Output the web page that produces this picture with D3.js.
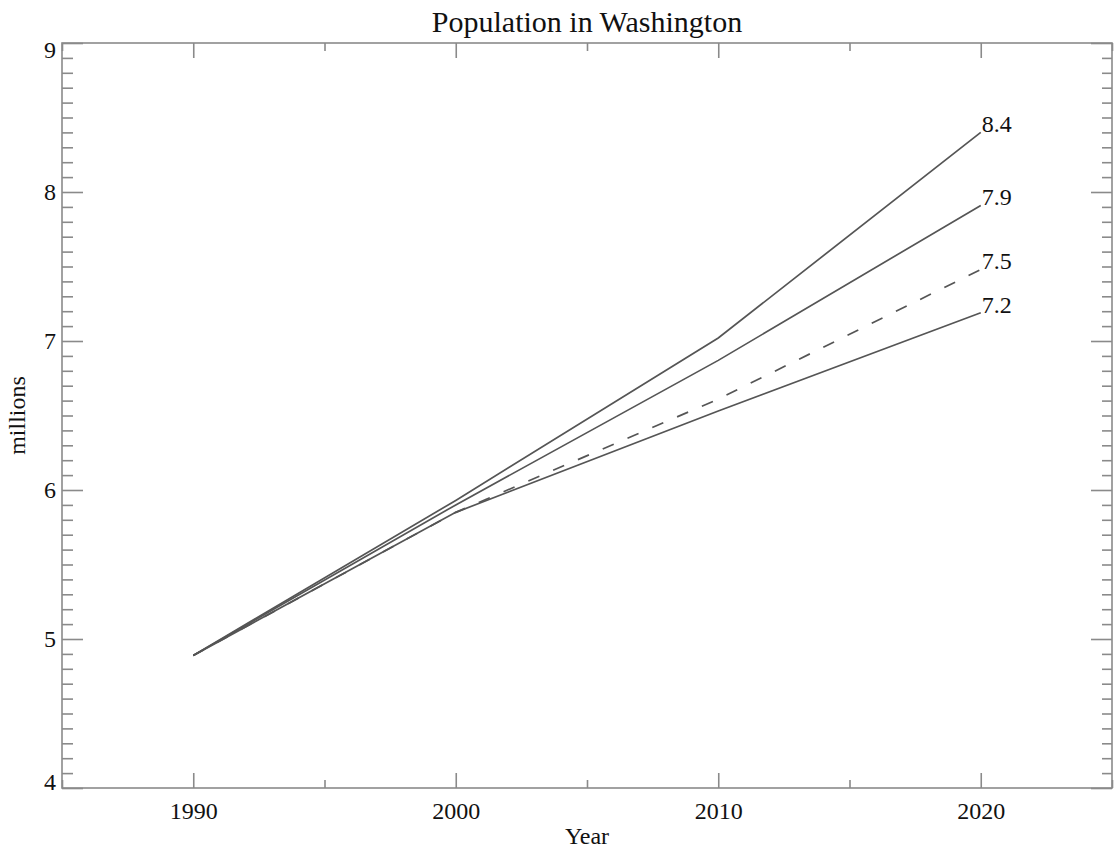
<!DOCTYPE html>
<html>
<head>
<meta charset="utf-8">
<script src="https://cdn.jsdelivr.net/npm/d3@7"></script>
<style>
  body { margin: 0; background: #fff; }
  svg text { font-family: "Liberation Serif", "Times New Roman", serif; fill: #111; }
  .frame { fill: none; stroke: #8a8a8a; stroke-width: 1.6; }
  .axis line { stroke: #8a8a8a; stroke-width: 1.6; }
  .axis path { display: none; }
  .trace { fill: none; stroke: #555; stroke-width: 1.7; }
</style>
</head>
<body>
<script>
// projection years and population (millions)
const years = [1990, 2000, 2010, 2020];
const high    = [4.89, 5.93, 7.02, 8.40];
const midHigh = [4.89, 5.90, 6.87, 7.91];
const middle  = [4.89, 5.85, 6.61, 7.48];
const low     = [4.89, 5.85, 6.53, 7.19];
const endLabels = ["8.4", "7.9", "7.5", "7.2"];

const yearTicks = [1990, 2000, 2010, 2020];
const yearMinor = [1985, 1995, 2005, 2015, 2025];
const popTicks = [4, 5, 6, 7, 8, 9];

const width = 1114, height = 854;
const padL = 62, padR = 1112, padT = 43, padB = 788;

const svg = d3.select("body").append("svg")
    .attr("width", width)
    .attr("height", height);

let xScale = d3.scaleLinear().domain([1985, 2025]).range([padL, padR]);
let yScale = d3.scaleLinear().domain([4, 9]).range([padB, padT]);

// minor y ticks every 0.1
let popMinor = d3.range(40, 91).map(d => d / 10).filter(d => Math.abs(d - Math.round(d)) > 1e-6);

function drawAxis(axisFn, pos, transform, values, size, labels) {
  let a = axisFn(pos).tickValues(values).tickSize(-size).tickPadding(labels ? 6 : 0);
  a.tickFormat(labels ? d3.format("d") : "");
  let g = svg.append("g").attr("class", "axis").attr("transform", transform).call(a);
  g.selectAll("text").style("font-size", "24px");
  return g;
}

// left / right
let yl = drawAxis(d3.axisLeft, yScale, `translate(${padL},0)`, popTicks, 21, true);
yl.selectAll("text").attr("fill", "#111")
  .attr("y", d => d === 9 ? 7 : d === 4 ? -6 : 0);
drawAxis(d3.axisLeft, yScale, `translate(${padL},0)`, popMinor, 11, false);
drawAxis(d3.axisRight, yScale, `translate(${padR},0)`, popTicks, 21, false);
drawAxis(d3.axisRight, yScale, `translate(${padR},0)`, popMinor, 10, false);

// bottom / top
let xb = drawAxis(d3.axisBottom, xScale, `translate(0,${padB})`, yearTicks, 15, true);
xb.selectAll("text").attr("fill", "#111").attr("y", 14);
drawAxis(d3.axisBottom, xScale, `translate(0,${padB})`, yearMinor, 8, false);
drawAxis(d3.axisTop, xScale, `translate(0,${padT})`, yearTicks, 15, false);
drawAxis(d3.axisTop, xScale, `translate(0,${padT})`, yearMinor, 8, false);

svg.append("rect").attr("class", "frame")
  .attr("x", padL).attr("y", padT)
  .attr("width", padR - padL).attr("height", padB - padT);

let lineGen = d3.line()
    .x((d, i) => xScale(years[i]))
    .y(d => yScale(d));

let series = [high, midHigh, middle, low];
series.forEach((s, k) => {
  svg.append("path")
    .attr("class", "trace")
    .attr("d", lineGen(s))
    .attr("stroke-dasharray", k === 2 ? "12,15" : null);
  svg.append("text")
    .attr("x", xScale(years[years.length - 1]) + 1)
    .attr("y", yScale(s[s.length - 1]))
    .style("font-size", "24px")
    .text(endLabels[k]);
});

svg.append("text")
  .attr("x", (padL + padR) / 2).attr("y", 32)
  .attr("text-anchor", "middle")
  .style("font-size", "30px")
  .text("Population in Washington");

svg.append("text")
  .attr("x", (padL + padR) / 2).attr("y", 844)
  .attr("text-anchor", "middle")
  .style("font-size", "24px")
  .text("Year");

svg.append("text")
  .attr("transform", `translate(25,${(padT + padB) / 2}) rotate(-90)`)
  .attr("text-anchor", "middle")
  .style("font-size", "24px")
  .text("millions");
</script>
</body>
</html>
